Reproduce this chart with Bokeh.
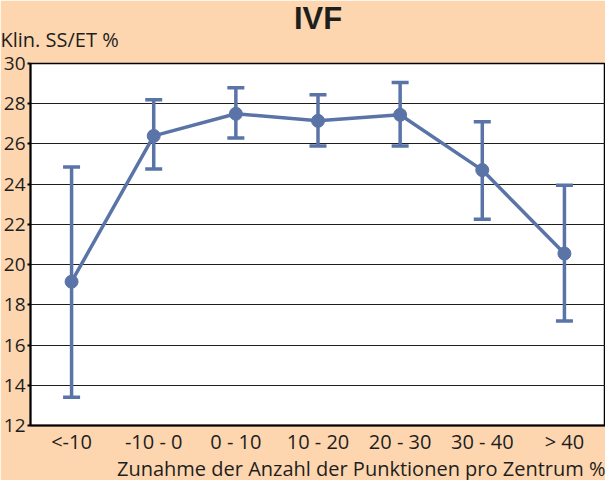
from bokeh.plotting import figure
from bokeh.models import ColumnDataSource, Whisker, Title, FactorRange, TeeHead, FixedTicker
from bokeh.embed import file_html
from bokeh.resources import INLINE

categories = ["<-10", "-10 - 0", "0 - 10", "10 - 20", "20 - 30", "30 - 40", "> 40"]
values = [19.15, 26.4, 27.5, 27.15, 27.45, 24.7, 20.55]
upper = [24.85, 28.2, 28.8, 28.45, 29.05, 27.1, 23.95]
lower = [13.4, 24.75, 26.3, 25.9, 25.9, 22.25, 17.2]
y_ticks = [12, 14, 16, 18, 20, 22, 24, 26, 28, 30]
title = "IVF"
y_title = "Klin. SS/ET %"
x_title = "Zunahme der Anzahl der Punktionen pro Zentrum %"

PEACH = "#FDD6AF"
BLUE = "#5A74A8"
FONT = "Open Sans"
TXT = "#1E1E1E"

src = ColumnDataSource(dict(x=categories, y=values, upper=upper, lower=lower))

p = figure(x_range=FactorRange(*categories, range_padding=0), y_range=(12, 30),
           width=605, height=480, output_backend="svg", toolbar_location=None,
           background_fill_color="white", border_fill_color=PEACH,
           min_border_left=30, min_border_right=0, min_border_top=63, min_border_bottom=55,
           outline_line_color="black", outline_line_width=1.5)
p.title.visible = False

p.add_layout(Title(text=y_title, align="left", offset=-30, standoff=22, vertical_align="bottom",
                   text_font=FONT, text_font_size="20px", text_font_style="normal",
                   text_color=TXT), "above")
p.add_layout(Title(text=title, align="center", standoff=-46, vertical_align="bottom",
                   text_font="Liberation Sans", text_font_size="31px", text_font_style="bold",
                   text_color=TXT), "above")
p.add_layout(Title(text=x_title, align="right", offset=0, standoff=-6, vertical_align="top",
                   text_font=FONT, text_font_size="20px", text_font_style="normal",
                   text_color=TXT), "below")

p.line("x", "y", source=src, line_color=BLUE, line_width=3.5)
p.scatter("x", "y", source=src, size=13, fill_color=BLUE, line_color=BLUE)
w = Whisker(base="x", upper="upper", lower="lower", source=src, line_color=BLUE, line_width=3.5,
            upper_head=TeeHead(size=17, line_color=BLUE, line_width=3.5),
            lower_head=TeeHead(size=17, line_color=BLUE, line_width=3.5))
p.add_layout(w)

p.xgrid.grid_line_color = None
p.ygrid.grid_line_color = "#1E1E1E"
p.ygrid.grid_line_width = 1
p.yaxis.ticker = FixedTicker(ticks=y_ticks)
p.yaxis.minor_tick_line_color = None
p.yaxis.major_tick_in = 0
p.yaxis.major_tick_out = 3
p.yaxis.axis_line_width = 2
p.yaxis.major_tick_line_width = 2
p.yaxis.major_label_standoff = 2
p.yaxis.major_label_text_font_size = "19px"
p.xaxis.axis_line_width = 2
p.xaxis.major_tick_line_color = None
p.xaxis.major_tick_out = 0
p.xaxis.major_label_standoff = 2
p.xaxis.major_label_text_font_size = "20px"
for ax in (p.xaxis, p.yaxis):
    ax.major_label_text_font = FONT
    ax.major_label_text_color = TXT
    ax.axis_line_color = "black"

open("out.html", "w").write(file_html(p, INLINE))
